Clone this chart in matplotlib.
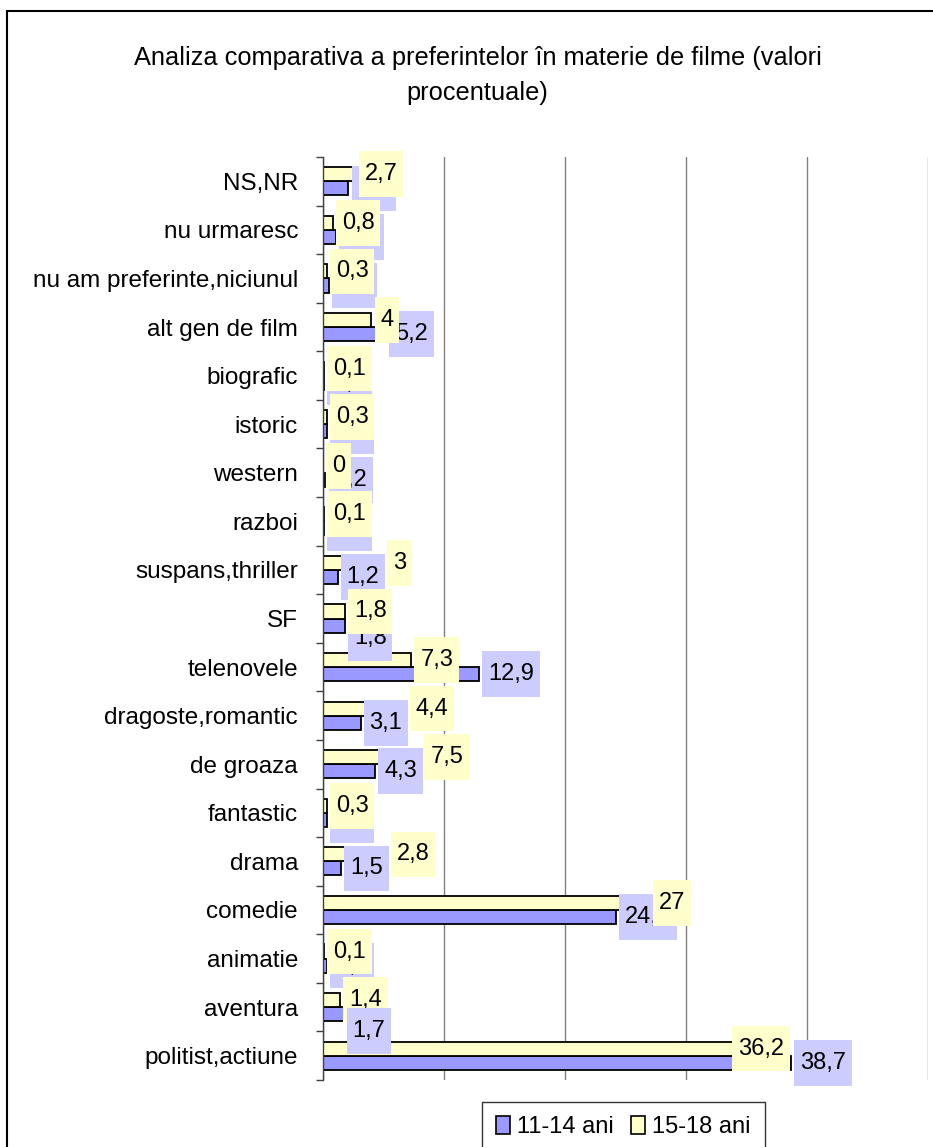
import numpy as np
import matplotlib
matplotlib.use('Agg')
import matplotlib.pyplot as plt
from matplotlib.path import Path
from matplotlib.patches import Patch, Rectangle

plt.rcParams['font.family'] = ['Liberation Sans', 'DejaVu Sans']

# categories, top to bottom as in the chart
categories = ['NS,NR', 'nu urmaresc', 'nu am preferinte,niciunul', 'alt gen de film',
              'biografic', 'istoric', 'western', 'razboi', 'suspans,thriller', 'SF',
              'telenovele', 'dragoste,romantic', 'de groaza', 'fantastic', 'drama',
              'comedie', 'animatie', 'aventura', 'politist,actiune']
ani_11_14 = [2.1, 1.1, 0.5, 5.2, 0.1, 0.3, 0.2, 0.1, 1.2, 1.8,
             12.9, 3.1, 4.3, 0.3, 1.5, 24.2, 0.3, 1.7, 38.7]
ani_15_18 = [2.7, 0.8, 0.3, 4, 0.1, 0.3, 0, 0.1, 3, 1.8,
             7.3, 4.4, 7.5, 0.3, 2.8, 27, 0.1, 1.4, 36.2]
series_names = ['11-14 ani', '15-18 ani']

# labels that were dragged by hand in the original chart
yellow_after_blue = {'suspans,thriller', 'dragoste,romantic', 'de groaza', 'drama'}
blue_lowered = {'SF': 9, 'aventura': 12}   # points
blue_on_top = {'aventura'}

blue = '#9999FF'
blue_lbl = '#CCCCFF'
yellow = '#FFFFCC'


def label_box(x0, y0, width, height, mutation_size):
    # excel style label background: taller than the text
    px = 0.25 * mutation_size
    py = 0.5 * mutation_size
    x0, y0 = x0 - px, y0 - py
    x1, y1 = x0 + width + 2 * px, y0 + height + 2 * py
    return Path([(x0, y0), (x1, y0), (x1, y1), (x0, y1), (x0, y0)], closed=True)


def fmt(v):
    return f'{v:g}'.replace('.', ',')


fig = plt.figure(figsize=(9.33, 11.47), dpi=100)
ax = fig.add_axes([323 / 933, 1 - 1080 / 1147, (928 - 323) / 933, (1080 - 157) / 1147])

y = np.arange(len(categories))
h = 0.29
ax.barh(y + h / 2, ani_11_14, height=h, color=blue, edgecolor='black', linewidth=1.3, zorder=2)
ax.barh(y - h / 2, ani_15_18, height=h, color=yellow, edgecolor='black', linewidth=1.3, zorder=2)

ax.set_xlim(0, 50)
ax.set_ylim(len(categories) - 0.5, -0.5)

# data labels: blue first, yellow drawn above them
blue_anns = []
for i, v in enumerate(ani_11_14):
    dy = -blue_lowered.get(categories[i], 0)
    z = 5 if categories[i] in blue_on_top else 3
    a = ax.annotate(fmt(v), xy=(v, y[i] + h / 2), xytext=(6.5, dy), textcoords='offset points',
                    ha='left', va='center', fontsize=17, zorder=z,
                    bbox=dict(boxstyle=label_box, fc=blue_lbl, ec='none'))
    blue_anns.append(a)

for i, v in enumerate(ani_15_18):
    box = dict(boxstyle=label_box, fc=yellow, ec='none')
    if categories[i] in yellow_after_blue:
        ax.annotate(fmt(v), xy=(1, y[i] - h / 2), xycoords=(blue_anns[i].get_bbox_patch(), 'data'),
                    xytext=(5.5, 0), textcoords='offset points',
                    ha='left', va='center', fontsize=17, zorder=4, bbox=box)
    elif v > 30:
        ax.annotate(fmt(v), xy=(v, y[i] - h / 2), ha='center', va='center',
                    fontsize=17, zorder=4, bbox=box)
    else:
        ax.annotate(fmt(v), xy=(v, y[i] - h / 2), xytext=(6.5, 0), textcoords='offset points',
                    ha='left', va='center', fontsize=17, zorder=4, bbox=box)

ax.set_yticks(y)
ax.set_yticklabels(categories, fontsize=17.5)
ax.set_yticks(np.arange(-0.5, len(categories), 1), minor=True)
ax.tick_params(axis='y', which='major', length=0, pad=18)
ax.tick_params(axis='y', which='minor', length=5, width=1, color='#404040')

ax.set_xticks(np.arange(0, 51, 10))
ax.set_xticklabels([])
ax.tick_params(axis='x', length=0)
ax.xaxis.grid(True, color='#808080', linewidth=1)
ax.set_axisbelow(True)

for side in ['top', 'right', 'bottom']:
    ax.spines[side].set_visible(False)
ax.spines['left'].set_color('#404040')
ax.spines['left'].set_linewidth(1)

fig.text(0.512, 0.934, 'Analiza comparativa a preferintelor în materie de filme (valori\nprocentuale)',
         ha='center', va='center', fontsize=18.3, linespacing=1.55)

handles = [Patch(facecolor=blue, edgecolor='black', linewidth=1.2),
           Patch(facecolor=yellow, edgecolor='black', linewidth=1.2)]
leg = fig.legend(handles, series_names, loc='upper left', bbox_to_anchor=(482 / 933, 1 - 1102 / 1147),
                 ncol=2, fontsize=17, frameon=True, fancybox=False, edgecolor='black',
                 handlelength=0.6, handleheight=0.8, handletextpad=0.3, columnspacing=0.7,
                 borderpad=0.6, borderaxespad=0)
leg.get_frame().set_linewidth(1)

# outer chart frame (cut by the picture on the right and bottom)
fig.add_artist(Rectangle((7 / 933, -0.05), 1.2, 1 - 11 / 1147 + 0.05, transform=fig.transFigure,
                         fill=False, edgecolor='black', linewidth=1.5))

fig.savefig('out.png', dpi=100)
